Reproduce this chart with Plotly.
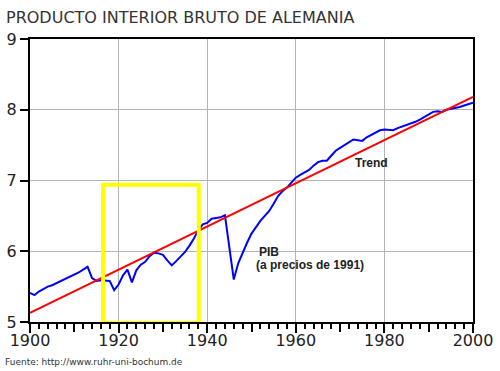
import plotly.graph_objects as go

years = list(range(1900, 2001))
pib = [5.41, 5.38, 5.43, 5.47, 5.50, 5.52, 5.55, 5.58, 5.60, 5.63,
       5.66, 5.70, 5.74, 5.78, 5.62, 5.58, 5.59, 5.58, 5.58, 5.45,
       5.53, 5.66, 5.74, 5.56, 5.73, 5.81, 5.85, 5.93, 5.98, 5.97,
       5.95, 5.87, 5.80, 5.86, 5.93, 5.99, 6.08, 6.18, 6.30, 6.38,
       6.40, 6.46, 6.47, 6.48, 6.51, 6.05, 5.60, 5.83, 5.98, 6.12,
       6.25, 6.35, 6.43, 6.50, 6.57, 6.67, 6.78, 6.85, 6.90, 6.97,
       7.04, 7.08, 7.12, 7.15, 7.21, 7.26, 7.28, 7.28, 7.35, 7.42,
       7.46, 7.50, 7.54, 7.58, 7.57, 7.56, 7.61, 7.64, 7.67, 7.71,
       7.72, 7.72, 7.71, 7.74, 7.76, 7.78, 7.80, 7.83, 7.86, 7.90,
       7.94, 7.97, 7.98, 7.97, 8.00, 8.01, 8.02, 8.04, 8.06, 8.08,
       8.10]
trend_years = [1900, 2000]
trend_values = [5.13, 8.18]

x_tick_vals = [1900, 1920, 1940, 1960, 1980, 2000]
x_tick_text = ["1900", "1920", "1940", "1960", "1980", "2000"]
y_tick_vals = [5, 6, 7, 8, 9]
y_tick_text = ["5", "6", "7", "8", "9"]

highlight_years = [1916.5, 1938.1]
highlight_values = [4.985, 6.94]

title_text = "PRODUCTO INTERIOR BRUTO DE ALEMANIA"
source_text = "Fuente: http://www.ruhr-uni-bochum.de"

fig = go.Figure()
fig.add_trace(go.Scatter(x=years, y=pib, mode="lines",
                         line=dict(color="#0000ff", width=2),
                         showlegend=False, hoverinfo="skip"))
fig.add_trace(go.Scatter(x=trend_years, y=trend_values, mode="lines",
                         line=dict(color="#ff0000", width=2),
                         xaxis="x2", showlegend=False, hoverinfo="skip"))

fig.add_shape(type="rect", xref="x", yref="y",
              x0=highlight_years[0], x1=highlight_years[1],
              y0=highlight_values[0], y1=highlight_values[1],
              line=dict(color="#ffff00", width=4), layer="above")

ann_font = dict(family="Liberation Sans, Arial", size=12, color="#222222")
fig.add_annotation(x=1977.1, y=7.25, text="<b>Trend</b>", showarrow=False,
                   xanchor="center", yanchor="middle", font=ann_font)
fig.add_annotation(x=1951.2, y=5.99, text="<b>PIB</b>", showarrow=False,
                   xanchor="left", yanchor="middle", font=ann_font)
fig.add_annotation(x=1950.6, y=5.80, text="<b>(a precios de 1991)</b>", showarrow=False,
                   xanchor="left", yanchor="middle", font=ann_font)

fig.add_annotation(xref="paper", yref="paper", x=-0.058, y=1.035,
                   xanchor="left", yanchor="bottom", showarrow=False,
                   text=title_text,
                   font=dict(family="DejaVu Sans", size=16, color="#333333"))
fig.add_annotation(xref="paper", yref="paper", x=-0.06, y=-0.115,
                   xanchor="left", yanchor="top", showarrow=False,
                   text=source_text,
                   font=dict(family="DejaVu Sans", size=9, color="#333333"))

tick_font = dict(family="DejaVu Sans", size=16, color="#222222")
fig.update_layout(
    width=500, height=371,
    margin=dict(l=30, r=27, t=39, b=49, autoexpand=False),
    paper_bgcolor="white", plot_bgcolor="white",
    xaxis=dict(range=[1900, 2000], tickvals=x_tick_vals, ticktext=x_tick_text,
               automargin=False, ticklabelstandoff=-6,
               showline=True, linecolor="black", linewidth=2, mirror=True,
               ticks="outside", ticklen=9, tickwidth=1.5, tickcolor="black",
               showgrid=True, gridcolor="#b4b4b4", gridwidth=1,
               zeroline=False, tickfont=tick_font,
               minor=dict(dtick=2, tick0=1900, ticks="outside", ticklen=5,
                          tickwidth=1.5, tickcolor="black", showgrid=False)),
    xaxis2=dict(range=[1900, 2000], overlaying="x", anchor="y", side="bottom",
                automargin=False,
                dtick=10, tick0=1900, ticks="outside", ticklen=9, tickwidth=1.5,
                tickcolor="black", showticklabels=False, showgrid=False,
                showline=False, zeroline=False),
    yaxis=dict(range=[5, 9], tickvals=y_tick_vals, ticktext=y_tick_text,
               automargin=False,
               showline=True, linecolor="black", linewidth=2, mirror=True,
               ticks="outside", ticklen=8, tickwidth=1.5, tickcolor="black",
               showgrid=True, gridcolor="#b4b4b4", gridwidth=1,
               zeroline=False, tickfont=tick_font),
)

fig.write_html(
    "out.html",
    config={"displayModeBar": False},
    post_script="document.body.style.margin='0';document.body.style.padding='0';"
                "document.body.style.overflow='hidden';",
)
